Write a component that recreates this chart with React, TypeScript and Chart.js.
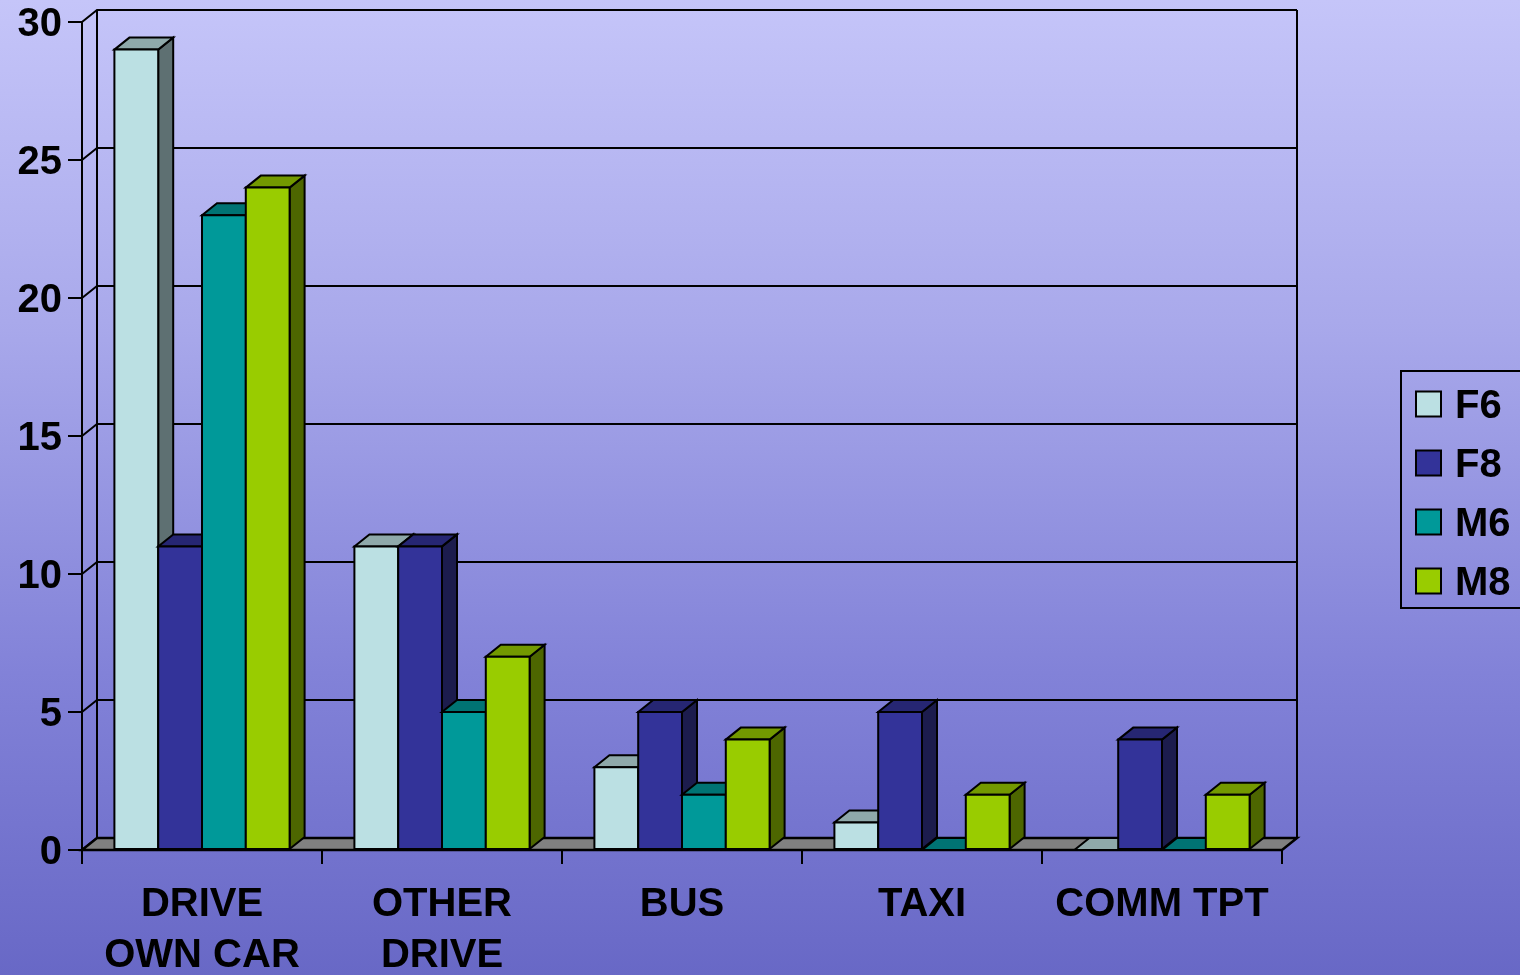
import React, { useEffect, useRef } from 'react';
import { Chart, registerables } from 'chart.js';

Chart.register(...registerables);

const categories: (string | string[])[] = [['DRIVE', 'OWN CAR'], ['OTHER', 'DRIVE'], 'BUS', 'TAXI', 'COMM TPT'];
const seriesNames = ['F6', 'F8', 'M6', 'M8'];
const f6 = [29, 11, 3, 1, 0];
const f8 = [11, 11, 5, 5, 4];
const m6 = [23, 5, 2, 0, 0];
const m8 = [24, 7, 4, 2, 2];
const yMin = 0;
const yMax = 30;
const yStep = 5;

const frontColors = ['#BBE0E3', '#333399', '#009999', '#99CC00'];
const topColors = ['#8FA9AA', '#262673', '#007373', '#739900'];
const sideColors = ['#5E7072', '#1C1C4D', '#004D4D', '#4D6600'];

const DX = 15;
const DY = 12;
const FONT = '"Liberation Sans", Arial, Helvetica, sans-serif';

function poly(ctx: CanvasRenderingContext2D, pts: number[][], fill: string) {
  ctx.beginPath();
  ctx.moveTo(pts[0][0], pts[0][1]);
  for (let i = 1; i < pts.length; i++) ctx.lineTo(pts[i][0], pts[i][1]);
  ctx.closePath();
  ctx.fillStyle = fill;
  ctx.fill();
  ctx.stroke();
}

const threeD = {
  id: 'threeD',
  beforeDatasetsDraw(chart: any) {
    const ctx: CanvasRenderingContext2D = chart.ctx;
    const { left, right, top, bottom } = chart.chartArea;
    const ys = chart.scales.y;
    ctx.save();
    ctx.strokeStyle = '#000';
    ctx.lineWidth = 2;
    ctx.lineJoin = 'miter';
    // back wall gridlines + left wall diagonals
    ys.ticks.forEach((t: any) => {
      const py = ys.getPixelForValue(t.value);
      ctx.beginPath();
      ctx.moveTo(left, py);
      ctx.lineTo(left + DX, py - DY);
      ctx.lineTo(right + DX, py - DY);
      ctx.stroke();
    });
    ctx.beginPath();
    ctx.moveTo(left + DX, top - DY);
    ctx.lineTo(left + DX, bottom - DY);
    ctx.moveTo(right + DX, top - DY);
    ctx.lineTo(right + DX, bottom - DY);
    ctx.stroke();
    // floor
    ctx.lineWidth = 2.5;
    poly(ctx, [[left, bottom], [right, bottom], [right + DX, bottom - DY], [left + DX, bottom - DY]], '#808080');
    ctx.lineWidth = 2;
    // bars, left to right
    const n = chart.data.labels.length;
    for (let i = 0; i < n; i++) {
      chart.data.datasets.forEach((_ds: any, di: number) => {
        const meta = chart.getDatasetMeta(di);
        const el = meta.data[i];
        const { x, y, base, width } = el.getProps(['x', 'y', 'base', 'width'], true);
        const l = x - width / 2;
        const r = x + width / 2;
        if (base - y > 0.5) {
          poly(ctx, [[r, y], [r + DX, y - DY], [r + DX, base - DY], [r, base]], sideColors[di]);
        }
        poly(ctx, [[l, y], [r, y], [r + DX, y - DY], [l + DX, y - DY]], topColors[di]);
        if (base - y > 0.5) {
          poly(ctx, [[l, y], [r, y], [r, base], [l, base]], frontColors[di]);
        }
      });
    }
    ctx.restore();
    return false;
  },
  afterDraw(chart: any) {
    const ctx: CanvasRenderingContext2D = chart.ctx;
    ctx.save();
    ctx.strokeStyle = '#000';
    ctx.lineWidth = 2;
    ctx.strokeRect(1401, 371, 140, 237);
    const rows = [404, 463, 522, 581];
    ctx.font = `bold 40px ${FONT}`;
    ctx.textBaseline = 'middle';
    ctx.textAlign = 'left';
    chart.data.datasets.forEach((ds: any, di: number) => {
      const cy = rows[di];
      ctx.fillStyle = frontColors[di];
      ctx.fillRect(1416, cy - 12.5, 25, 25);
      ctx.strokeRect(1416, cy - 12.5, 25, 25);
      ctx.fillStyle = '#000';
      ctx.fillText(ds.label, 1455, cy + 3);
    });
    ctx.restore();
  },
};

export default function App() {
  const ref = useRef<HTMLCanvasElement>(null);
  useEffect(() => {
    Chart.defaults.font.family = FONT;
    const series = [f6, f8, m6, m8];
    const chart = new Chart(ref.current as HTMLCanvasElement, {
      type: 'bar',
      data: {
        labels: categories,
        datasets: series.map((d, i) => ({
          label: seriesNames[i],
          data: d,
          backgroundColor: frontColors[i],
        })),
      },
      options: {
        animation: false,
        responsive: false,
        layout: { padding: { top: 22, right: 238, left: 0, bottom: 0 } },
        datasets: { bar: { categoryPercentage: 0.73, barPercentage: 1 } },
        plugins: { legend: { display: false }, tooltip: { enabled: false } },
        scales: {
          x: {
            grid: { drawOnChartArea: false, tickLength: 14, color: '#000', lineWidth: 2, offset: true },
            border: { color: '#000', width: 2 },
            ticks: {
              color: '#000',
              font: { size: 40, weight: 'bold', lineHeight: 51 / 40 },
              padding: 15,
              maxRotation: 0,
              autoSkip: false,
            },
            afterFit(s: any) {
              s.height = 125;
              s.paddingLeft = 0;
              s.paddingRight = 0;
            },
          },
          y: {
            min: yMin,
            max: yMax,
            ticks: { stepSize: yStep, color: '#000', font: { size: 40, weight: 'bold' }, padding: 6, labelOffset: 3 },
            grid: { drawOnChartArea: false, tickLength: 14, color: '#000', lineWidth: 2 },
            border: { color: '#000', width: 2 },
            afterFit(s: any) {
              s.width = 82;
              s.paddingTop = 0;
              s.paddingBottom = 0;
            },
          },
        },
      } as any,
      plugins: [threeD as any],
    });
    return () => chart.destroy();
  }, []);
  return (
    <div
      style={{
        position: 'fixed',
        left: 0,
        top: 0,
        width: 1520,
        height: 975,
        background:
          'linear-gradient(to bottom, #c5c5f9 0%, #a9a9eb 33%, #8282d8 69%, #6868c6 100%)',
      }}
    >
      <canvas ref={ref} width={1520} height={975} style={{ display: 'block', width: 1520, height: 975 }} />
    </div>
  );
}
